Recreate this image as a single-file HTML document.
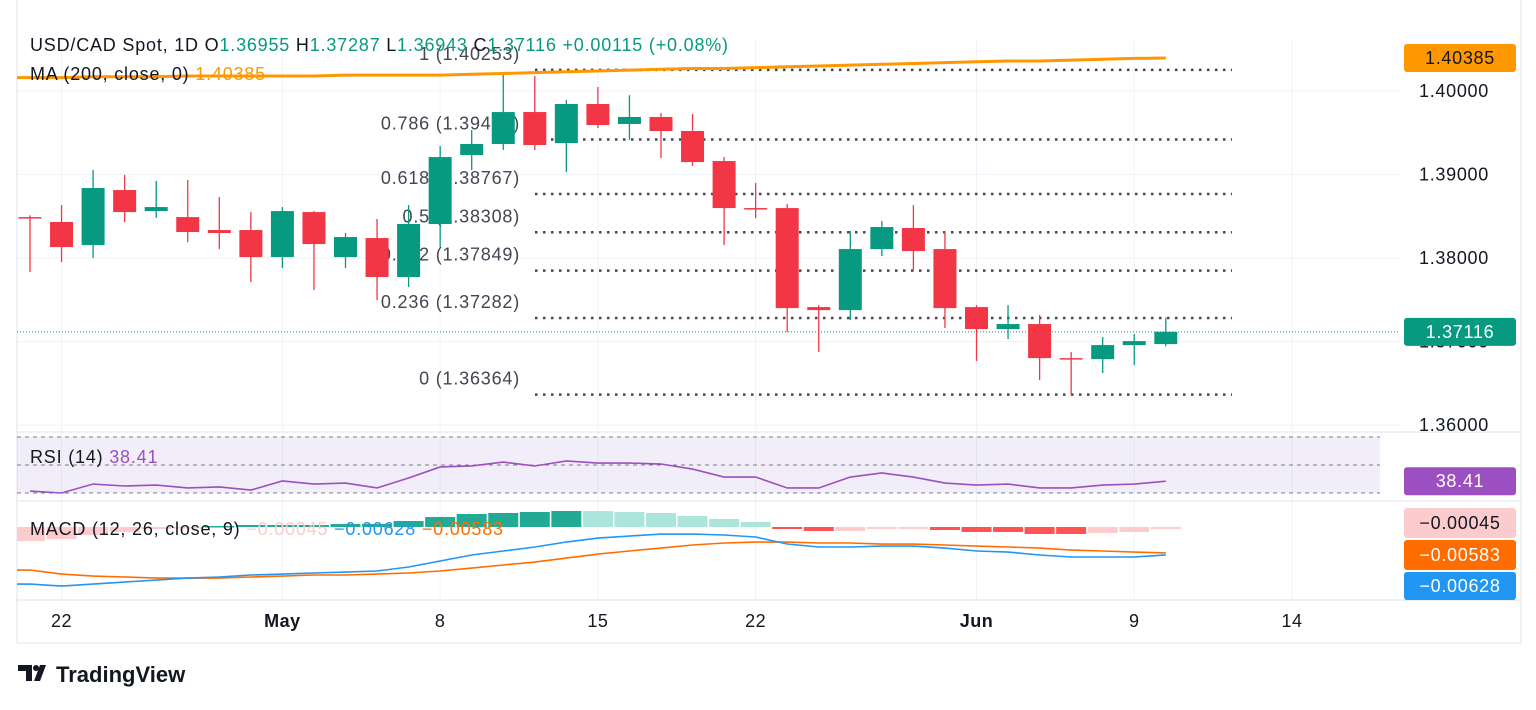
<!DOCTYPE html>
<html><head><meta charset="utf-8">
<style>
body{margin:0;background:#fff;width:1536px;height:705px;overflow:hidden;font-family:"Liberation Sans",sans-serif;}
svg text{font-family:"Liberation Sans",sans-serif;}
</style></head>
<body>
<svg id="chart" width="1536" height="705" xmlns="http://www.w3.org/2000/svg">
<defs><clipPath id="pane"><rect x="17" y="0" width="1383" height="643"/></clipPath></defs>
<g id="grid"></g>
<g id="main"></g>
<g id="rsi"></g>
<g id="macd" clip-path="url(#pane)"></g>
<g id="axes"></g>
<g id="legend" font-size="18" letter-spacing="0.8">
<text x="30" y="51" fill="#131722">USD/CAD Spot, 1D  O<tspan fill="#089981">1.36955</tspan>  H<tspan fill="#089981">1.37287</tspan>  L<tspan fill="#089981">1.36943</tspan>  C<tspan fill="#089981">1.37116</tspan>  <tspan fill="#089981">+0.00115 (+0.08%)</tspan></text>
<text x="30" y="80" fill="#131722">MA (200, close, 0)  <tspan fill="#ff9800">1.40385</tspan></text>
<text x="30" y="463" fill="#131722">RSI (14)  <tspan fill="#9c4fc0">38.41</tspan></text>
<text x="30" y="535" fill="#131722">MACD (12, 26, close, 9)  <tspan fill="#fccbcd">−0.00045</tspan>  <tspan fill="#2196f3">−0.00628</tspan>  <tspan fill="#ff6d00">−0.00583</tspan></text>
</g>
<g>
<path d="M18 665h14v16h-6v-10h-8z M34 681l6-16h6l-6 16z" fill="#131722"/>
<circle cx="36" cy="668" r="3" fill="#131722"/>
<text x="56" y="682" font-size="22" font-weight="bold" fill="#131722">TradingView</text>
</g>
</svg>
<script>
const opens=[1.3849,1.38431,1.38155,1.38814,1.38562,1.3849,1.38335,1.38335,1.38011,1.3855,1.38011,1.38239,1.37772,1.38407,1.39233,1.39365,1.39748,1.39377,1.39844,1.39605,1.39689,1.39521,1.39161,1.38598,1.38598,1.37412,1.37376,1.38107,1.38359,1.38107,1.37412,1.37149,1.37209,1.36801,1.36789,1.36957,1.36969];
const closes=[1.38479,1.38131,1.38838,1.3855,1.3861,1.38311,1.38299,1.38011,1.38562,1.38167,1.38251,1.37772,1.38407,1.39209,1.39365,1.39748,1.39353,1.39844,1.39593,1.39689,1.39521,1.39149,1.38598,1.38588,1.374,1.37376,1.38107,1.38371,1.38083,1.374,1.37149,1.37209,1.36801,1.36795,1.36957,1.37005,1.37116];
const highs=[1.3851,1.38634,1.39054,1.38994,1.38922,1.38934,1.3873,1.3855,1.3861,1.38562,1.38299,1.38467,1.38634,1.39341,1.39533,1.40192,1.4018,1.39892,1.40048,1.3995,1.39736,1.39724,1.39209,1.38898,1.38646,1.37436,1.38323,1.38443,1.38634,1.38323,1.37436,1.37436,1.37316,1.36873,1.37053,1.37089,1.37287];
const lows=[1.37832,1.37951,1.37999,1.38431,1.38479,1.38191,1.38107,1.37712,1.3788,1.37616,1.3788,1.37496,1.37652,1.38131,1.39054,1.39293,1.39293,1.3903,1.39557,1.39413,1.39197,1.39102,1.38155,1.38479,1.37113,1.36873,1.37257,1.38023,1.37856,1.37161,1.36765,1.37029,1.36538,1.36364,1.36622,1.36717,1.36943];
const ma200=[1.4016,1.4016,1.4017,1.4017,1.4017,1.4018,1.4018,1.4018,1.4018,1.4018,1.4019,1.4019,1.4019,1.4019,1.402,1.4021,1.4022,1.4023,1.4024,1.4025,1.4026,1.4027,1.4027,1.4028,1.4029,1.403,1.4031,1.4032,1.4033,1.4034,1.4035,1.4036,1.4036,1.4037,1.4038,1.4039,1.40395];
const rsiVals=[31.4,30.0,36.4,35,35.7,33.6,34.3,32.1,38.6,36.4,37.1,33.6,40.7,48.6,49.3,52.1,49.3,52.9,51.4,51.4,50.7,47.1,41.4,41.4,33.6,33.6,41.4,44.3,41.4,37.1,35.7,36.4,33.6,33.6,35.7,36.4,38.41];
const macdVals=[-0.01283,-0.01328,-0.01283,-0.01238,-0.01193,-0.01148,-0.01125,-0.0108,-0.01058,-0.01035,-0.01013,-0.0099,-0.009,-0.00765,-0.0063,-0.0054,-0.0045,-0.00338,-0.00248,-0.00203,-0.00158,-0.00158,-0.0018,-0.00225,-0.00383,-0.0045,-0.0045,-0.00428,-0.00428,-0.00473,-0.0054,-0.00563,-0.0063,-0.00675,-0.00675,-0.00675,-0.00628];
const signalVals=[-0.00968,-0.01058,-0.01103,-0.01125,-0.01148,-0.01148,-0.01148,-0.01125,-0.01103,-0.0108,-0.0108,-0.01058,-0.01035,-0.0099,-0.00923,-0.00855,-0.00788,-0.00698,-0.00608,-0.0054,-0.00473,-0.00405,-0.0036,-0.00338,-0.00338,-0.0036,-0.0036,-0.00383,-0.00383,-0.00405,-0.00428,-0.0045,-0.00473,-0.00518,-0.0054,-0.00563,-0.00583];
const histVals=[-0.00315,-0.0027,-0.0018,-0.00113,-0.00045,-0.00002,0.00023,0.00045,0.00045,0.00045,0.00067,0.00068,0.00135,0.00225,0.00293,0.00315,0.00338,0.0036,0.00358,0.00337,0.00315,0.00247,0.0018,0.00113,-0.00045,-0.0009,-0.00088,-0.00045,-0.00043,-0.00068,-0.00112,-0.00113,-0.00157,-0.00157,-0.00135,-0.00112,-0.00045];
const fibRatios=["1","0.786","0.618","0.5","0.382","0.236","0"];
const fibPrices=[1.40253,1.39419,1.38767,1.38308,1.37849,1.37282,1.36364];
const priceTicks=[1.40,1.39,1.38,1.37,1.36];
const dateLabels=["22","May","8","15","22","Jun","9","14"];
const dateIdx=[1,8,13,18,23,30,35,40];
const rsiLevels=[70,50,30];

const NS="http://www.w3.org/2000/svg";
function mk(parent,tag,attrs,txt){const e=document.createElementNS(NS,tag);for(const k in attrs)e.setAttribute(k,attrs[k]);if(txt!==undefined)e.textContent=txt;document.getElementById(parent).appendChild(e);return e;}
const X=i=>30+i*31.55;
const Y=p=>91+(1.40-p)*8350;
const RY=v=>465-(v-50)*1.4;
const MY=v=>527-v*4444;
const PL=17,PR=1400;

dateIdx.forEach(i=>{const g=mk('grid','line',{x1:X(i),x2:X(i),y1:40,y2:600,stroke:'#f0f3fa','stroke-width':1});

});
priceTicks.forEach(p=>{const g=mk('grid','line',{x1:PL,x2:PR,y1:Y(p),y2:Y(p),stroke:'#f0f3fa'});

});
mk('grid','line',{x1:PL,x2:1521,y1:432,y2:432,stroke:'#e0e3eb'});
mk('grid','line',{x1:PL,x2:1521,y1:501,y2:501,stroke:'#e0e3eb'});
mk('grid','line',{x1:PL,x2:1521,y1:600,y2:600,stroke:'#e0e3eb'});
mk('grid','line',{x1:PL,x2:PL,y1:0,y2:643,stroke:'#e0e3eb'});
mk('grid','line',{x1:1521,x2:1521,y1:0,y2:643,stroke:'#e0e3eb'});
mk('grid','line',{x1:PL,x2:1521,y1:643,y2:643,stroke:'#e0e3eb'});

fibPrices.forEach((p,k)=>{
const l=mk('main','line',{x1:535,x2:1232,y1:Y(p),y2:Y(p),stroke:'#434651','stroke-width':2.5,'stroke-dasharray':'2.5 5.5'});


const t=mk('main','text',{x:520,y:Y(p)-10,'text-anchor':'end','font-size':18,'letter-spacing':0.8,fill:'#434651'},fibRatios[k]+' ('+p.toFixed(5)+')');


});
const cp=mk('main','line',{x1:PL,x2:PR,y1:Y(closes[closes.length-1]),y2:Y(closes[closes.length-1]),stroke:'#089981','stroke-dasharray':'1 2'});


opens.forEach((o,i)=>{const c=closes[i];const up=c>=o;const col=up?'#089981':'#f23645';
const w=mk('main','line',{x1:X(i),x2:X(i),y1:Y(highs[i]),y2:Y(lows[i]),stroke:col,'stroke-width':1.3});


const top=Y(Math.max(o,c)),h=Math.max(1.5,Math.abs(Y(o)-Y(c)));
const b=mk('main','rect',{x:X(i)-11.5,y:top,width:23,height:h,fill:col});


});
let d='M'+PL+' '+Y(ma200[0]);ma200.forEach((v,i)=>{d+=' L'+X(i)+' '+Y(v);});
const ma=mk('main','path',{d:d,fill:'none',stroke:'#ff9800','stroke-width':3});



const rb=mk('rsi','rect',{x:PL,y:RY(70),width:PR-PL-20,height:RY(30)-RY(70),fill:'#7e57c2','fill-opacity':0.1});


rsiLevels.forEach(v=>{const l=mk('rsi','line',{x1:PL,x2:PR-20,y1:RY(v),y2:RY(v),stroke:'#787b86','stroke-dasharray':'4 4'});

});
const rp=mk('rsi','polyline',{points:rsiVals.map((v,i)=>X(i)+','+RY(v)).join(' '),fill:'none',stroke:'#9c4fc0','stroke-width':1.6});



histVals.forEach((v,i)=>{const prev=i>0?histVals[i-1]:v*1.1;let col;
if(v>=0)col=v>=prev?'#22ab94':'#ace5dc';else col=v<=prev?'#ff5252':'#fccbcd';
const y0=MY(0),y1=MY(v);
const r=mk('macd','rect',{x:X(i)-15,y:Math.min(y0,y1),width:30,height:Math.max(1.5,Math.abs(y1-y0)),fill:col});

});
const sl=mk('macd','polyline',{points:[PL+','+MY(signalVals[0])].concat(signalVals.map((v,i)=>X(i)+','+MY(v))).join(' '),fill:'none',stroke:'#ff6d00','stroke-width':1.6});


const ml=mk('macd','polyline',{points:[PL+','+MY(macdVals[0])].concat(macdVals.map((v,i)=>X(i)+','+MY(v))).join(' '),fill:'none',stroke:'#2196f3','stroke-width':1.6});



priceTicks.forEach(p=>{const t=mk('axes','text',{x:1419,y:Y(p)+6,'font-size':18,'letter-spacing':0.7,fill:'#131722'},p.toFixed(5));

});
dateLabels.forEach((s,k)=>{const t=mk('axes','text',{x:X(dateIdx[k]),y:627,'text-anchor':'middle','font-size':18,'letter-spacing':0.5,fill:'#131722','font-weight':(s=='May'||s=='Jun')?'bold':'normal'},s);

});
function tag(y,h,bg,fg,txt,name){const r=mk('axes','rect',{x:1404,y:y,width:112,height:h,rx:3,fill:bg});


const t=mk('axes','text',{x:1460,y:y+h/2+6,'text-anchor':'middle','font-size':18,'letter-spacing':0.7,fill:fg},txt);

}
tag(Y(ma200[ma200.length-1])-14,28,'#ff9800','#131722','1.40385','ma-price-tag');
tag(Y(closes[closes.length-1])-14,28,'#089981','#ffffff','1.37116','last-price-tag');
tag(RY(38.41)-14,28,'#9c4fc0','#ffffff','38.41','rsi-value-tag');
tag(508,30,'#fccbcd','#131722','−0.00045','hist-value-tag');
tag(540,30,'#ff6d00','#ffffff','−0.00583','signal-value-tag');
tag(572,28,'#2196f3','#ffffff','−0.00628','macd-value-tag');
</script>
</body></html>
